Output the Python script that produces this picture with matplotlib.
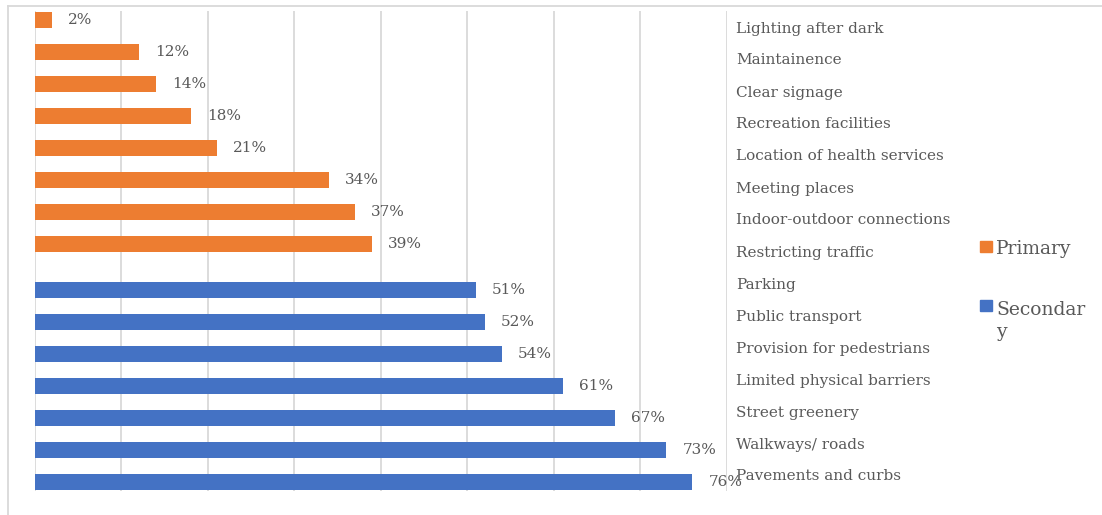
import matplotlib.pyplot as plt
from matplotlib.lines import Line2D
from matplotlib.patches import Rectangle

# -----------------------------
# Data
# -----------------------------
categories = ["Lighting after dark", "Maintainence", "Clear signage",
              "Recreation facilities", "Location of health services",
              "Meeting places", "Indoor-outdoor connections",
              "Restricting traffic", "Parking", "Public transport",
              "Provision for pedestrians", "Limited physical barriers",
              "Street greenery", "Walkways/ roads", "Pavements and curbs"]
primary = [2, 12, 14, 18, 21, 34, 37, 39]
secondary = [51, 52, 54, 61, 67, 73, 76]
series_names = ["Primary", "Secondar\ny"]

ORANGE = "#ED7D31"
BLUE = "#4472C4"
GREY = "#595959"
GRID = "#D9D9D9"

plt.rcParams["font.family"] = "DejaVu Serif"

W, H = 1102, 515
fig = plt.figure(figsize=(W / 100, H / 100), dpi=100)
ax = fig.add_axes([35 / W, 1 - 491 / H, 692 / W, 480 / H])

# -----------------------------
# Bars
# -----------------------------
n_p = len(primary)
pos_p = [i - 0.22 for i in range(n_p)]
pos_s = [n_p + i + 0.22 for i in range(len(secondary))]

bp = ax.barh(pos_p, primary, height=0.5, color=ORANGE)
bs = ax.barh(pos_s, secondary, height=0.5, color=BLUE)

for bars in (bp, bs):
    ax.bar_label(bars, fmt="%d%%", padding=11.5, color=GREY, fontsize=11)

ax.set_xlim(0, 80)
ax.set_ylim(len(categories) - 0.5, -0.5)
ax.set_xticks(range(0, 81, 10))
ax.tick_params(axis="x", length=0, labelbottom=False)
ax.xaxis.grid(True, color=GRID, linewidth=1.3)
ax.set_axisbelow(True)

ax.yaxis.tick_right()
ax.set_yticks(range(len(categories)))
ax.set_yticklabels(categories, color=GREY, fontsize=11)
ax.tick_params(axis="y", length=0, pad=6.5)

for s in ax.spines.values():
    s.set_visible(False)

# -----------------------------
# Legend (drawn by hand, square beside first line)
# -----------------------------
# (square baseline px, text last-line baseline px)
for name, col, sq, base in zip(series_names, [ORANGE, BLUE],
                               [254, 313], [254, 337]):
    fig.add_artist(Rectangle((980 / W, 1 - (sq - 2) / H), 12 / W, 11 / H,
                             transform=fig.transFigure, color=col))
    fig.text(996 / W, 1 - base / H, name, color=GREY, fontsize=13.5,
             va="baseline", ha="left", linespacing=1.3)

# chart border
fig.add_artist(Line2D([8 / W, 1], [1 - 6 / H, 1 - 6 / H],
                      transform=fig.transFigure, color=GRID, lw=1.3))
fig.add_artist(Line2D([8 / W, 8 / W], [0, 1 - 6 / H],
                      transform=fig.transFigure, color=GRID, lw=1.3))

fig.savefig("out.png", dpi=100)
